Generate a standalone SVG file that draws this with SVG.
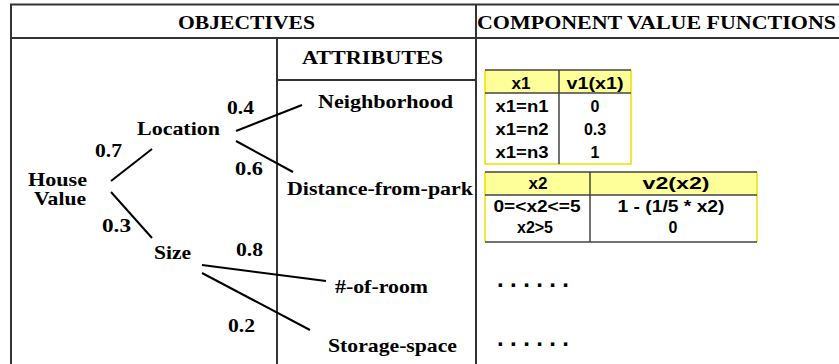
<svg xmlns="http://www.w3.org/2000/svg" width="839" height="364" viewBox="0 0 839 364">
<style>
.frame{stroke:#333;stroke-width:2;fill:none}
.hdr{font-family:"Liberation Serif","Times New Roman",serif;font-weight:bold;font-size:18px;fill:#000}
.lbl{font-family:"Liberation Serif","Times New Roman",serif;font-weight:bold;font-size:19px;fill:#000}
.tt{font-family:"Liberation Sans",Arial,sans-serif;font-weight:bold;font-size:16px;fill:#000;text-anchor:middle}
.edge{stroke:#000;stroke-width:2;fill:none}
.hfill{fill:#ffff99}
.yb{stroke:#f0e000;stroke-width:1.5;fill:none}
.db{stroke:#444;stroke-width:1.5;fill:none}
.dots{font-family:"Liberation Sans",Arial,sans-serif;font-weight:bold;font-size:24px;fill:#000}
</style>
<rect width="839" height="364" fill="#fff"/>
<g id="frame">
<path class="frame" d="M11,364 V4.5 H839 M11,38 H839 M476,4.5 V364 M277,38 V364 M277,80 H476"/>
<text class="hdr" x="178" y="29" textLength="137" lengthAdjust="spacingAndGlyphs">OBJECTIVES</text>
<text class="hdr" x="477" y="29" textLength="359" lengthAdjust="spacingAndGlyphs">COMPONENT VALUE FUNCTIONS</text>
<text class="hdr" x="302" y="64" textLength="141" lengthAdjust="spacingAndGlyphs">ATTRIBUTES</text>
</g>
<g id="connectors">
<line class="edge" x1="111" y1="181" x2="152" y2="149"/>
<line class="edge" x1="111" y1="192" x2="152" y2="238"/>
<line class="edge" x1="236" y1="131" x2="302" y2="105"/>
<line class="edge" x1="236" y1="141" x2="293" y2="172"/>
<line class="edge" x1="202" y1="265" x2="326" y2="281"/>
<line class="edge" x1="202" y1="273" x2="310" y2="330"/>
<text class="lbl" x="95" y="157" textLength="27" lengthAdjust="spacingAndGlyphs">0.7</text>
<text class="lbl" x="102" y="232" textLength="29" lengthAdjust="spacingAndGlyphs">0.3</text>
<text class="lbl" x="227" y="114" textLength="27" lengthAdjust="spacingAndGlyphs">0.4</text>
<text class="lbl" x="235" y="175" textLength="28" lengthAdjust="spacingAndGlyphs">0.6</text>
<text class="lbl" x="236" y="256" textLength="27" lengthAdjust="spacingAndGlyphs">0.8</text>
<text class="lbl" x="228" y="332" textLength="27" lengthAdjust="spacingAndGlyphs">0.2</text>
</g>
<g id="house-value">
<text class="lbl" x="28" y="186" textLength="59" lengthAdjust="spacingAndGlyphs">House</text>
<text class="lbl" x="34" y="205" textLength="52" lengthAdjust="spacingAndGlyphs">Value</text>
</g>
<g id="location"><text class="lbl" x="137" y="135" textLength="83" lengthAdjust="spacingAndGlyphs">Location</text></g>
<g id="size"><text class="lbl" x="154" y="259" textLength="37" lengthAdjust="spacingAndGlyphs">Size</text></g>
<g id="neighborhood"><text class="lbl" x="318" y="108" textLength="135" lengthAdjust="spacingAndGlyphs">Neighborhood</text></g>
<g id="distance"><text class="lbl" x="287" y="195" textLength="186" lengthAdjust="spacingAndGlyphs">Distance-from-park</text></g>
<g id="rooms"><text class="lbl" x="335" y="293" textLength="93" lengthAdjust="spacingAndGlyphs">#-of-room</text></g>
<g id="storage"><text class="lbl" x="328" y="352" textLength="129" lengthAdjust="spacingAndGlyphs">Storage-space</text></g>
<g id="table1">
<rect class="hfill" x="485" y="70" width="146" height="23"/>
<path class="yb" d="M485,70 V164 H631 V70"/>
<path class="db" d="M485,70 H631 M485,93 H631 M559,70 V164"/>
<text class="tt" x="521" y="89" textLength="19" lengthAdjust="spacingAndGlyphs">x1</text>
<text class="tt" x="595" y="89" textLength="57" lengthAdjust="spacingAndGlyphs">v1(x1)</text>
<text class="tt" x="522" y="112" textLength="53" lengthAdjust="spacingAndGlyphs">x1=n1</text>
<text class="tt" x="595" y="112">0</text>
<text class="tt" x="522" y="135" textLength="53" lengthAdjust="spacingAndGlyphs">x1=n2</text>
<text class="tt" x="595" y="135">0.3</text>
<text class="tt" x="522" y="158" textLength="53" lengthAdjust="spacingAndGlyphs">x1=n3</text>
<text class="tt" x="595" y="158">1</text>
</g>
<g id="table2">
<rect class="hfill" x="485" y="172" width="272" height="23"/>
<path class="yb" d="M485,172 V242 M757,172 V242"/>
<path class="db" d="M485,172 H757 M485,195 H757 M485,242 H757 M590,172 V242"/>
<text class="tt" x="538" y="189" textLength="19" lengthAdjust="spacingAndGlyphs">x2</text>
<text class="tt" x="676" y="189" textLength="67" lengthAdjust="spacingAndGlyphs">v2(x2)</text>
<text class="tt" x="537" y="212" textLength="87" lengthAdjust="spacingAndGlyphs">0=&lt;x2&lt;=5</text>
<text class="tt" x="671" y="212" textLength="107" lengthAdjust="spacingAndGlyphs">1 - (1/5 * x2)</text>
<text class="tt" x="535" y="233" textLength="36" lengthAdjust="spacingAndGlyphs">x2&gt;5</text>
<text class="tt" x="673" y="233">0</text>
</g>
<g id="more">
<text class="dots" x="497" y="287" textLength="72" lengthAdjust="spacing">......</text>
<text class="dots" x="497" y="346" textLength="72" lengthAdjust="spacing">......</text>
</g>
</svg>
